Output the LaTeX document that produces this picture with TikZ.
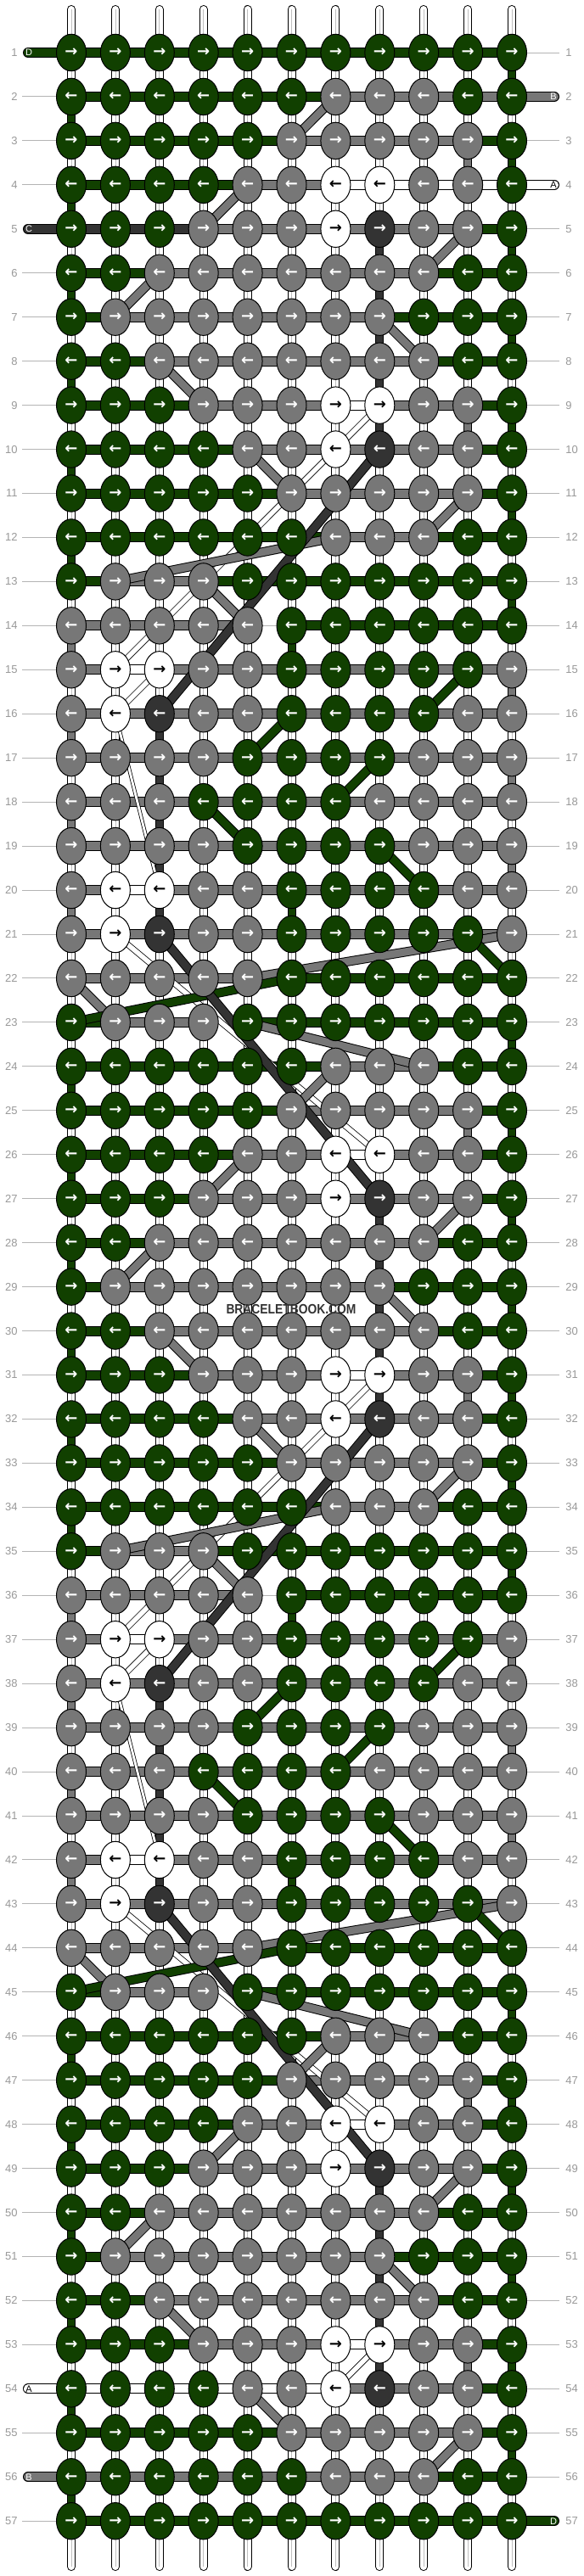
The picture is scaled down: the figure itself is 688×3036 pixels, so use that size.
\documentclass[tikz,border=0pt]{standalone}
\usepackage{fontspec}
\setmainfont{Liberation Sans}
\newfontfamily\arrfont{DejaVu Sans}
\usetikzlibrary{shapes.geometric}
\pgfdeclarelayer{bg}
\pgfsetlayers{bg,main}
\definecolor{G}{HTML}{114000}
\definecolor{g}{HTML}{777777}
\definecolor{d}{HTML}{333333}
\definecolor{w}{HTML}{FFFFFF}
\definecolor{lbl}{HTML}{999999}
\definecolor{lln}{HTML}{B4B4B4}
\colorlet{tG}{white}
\colorlet{tg}{white}
\colorlet{td}{white}
\colorlet{tw}{black}
\tikzset{
  knot/.style={ellipse, draw=black, line width=0.5pt, minimum width=17.5pt, minimum height=21.7pt, inner sep=0pt, font=\arrfont\bfseries\fontsize{9}{9}\selectfont},
  rowlabel/.style={inner sep=0pt, text=lbl, font=\fontsize{6.5}{7}\selectfont},
  labelline/.style={draw=lln, line width=0.5pt},
  endtag/.style={inner sep=0pt, font=\fontsize{5.5}{6}\selectfont},
  outl/.style={draw=black, line width=5.5pt},
  fillw/.style={line width=4.5pt},
}
\begin{document}
\begin{tikzpicture}[x=0.5pt,y=-0.5pt]
\useasboundingbox (0,0) rectangle (688,3036);
% warp strings
\begin{pgfonlayer}{bg}
\fill[white] (0,0) rectangle (688,3036);
\foreach \ci in {1,...,11} {
  \coordinate (wt-\ci) at ({84+51.9*(\ci-1)},11);
  \coordinate (wb-\ci) at ({84+51.9*(\ci-1)},3025);
  \draw[line width=5pt, line cap=round] (wt-\ci) -- (wb-\ci);
  \draw[white, line width=4pt, line cap=round] (wt-\ci) -- (wb-\ci);
  \draw[black!25, line width=0.4pt] (wt-\ci) -- (wb-\ci);
}
\end{pgfonlayer}
% knots and horizontal bands
\foreach \r/\ks/\bs in {
1/{G,G,G,G,G,G,G,G,G,G,G}/{G,G,G,G,G,G,G,G,G,G},
2/{G,G,G,G,G,G,g,g,g,G,G}/{G,G,G,G,G,G,g,g,g,g},
3/{G,G,G,G,G,g,g,g,g,g,G}/{G,G,G,G,G,g,g,g,g,G},
4/{G,G,G,G,g,g,w,w,g,g,G}/{G,G,G,G,g,g,w,w,w,w},
5/{G,G,G,g,g,g,w,d,g,g,G}/{d,d,d,g,g,g,g,g,g,G},
6/{G,G,g,g,g,g,g,g,g,G,G}/{G,G,g,g,g,g,g,g,G,G},
7/{G,g,g,g,g,g,g,g,G,G,G}/{G,g,g,g,g,g,g,G,G,G},
8/{G,G,g,g,g,g,g,g,g,G,G}/{G,G,g,g,g,g,g,g,G,G},
9/{G,G,G,g,g,g,w,w,g,g,G}/{G,G,G,g,g,g,w,g,g,G},
10/{G,G,G,G,g,g,w,d,g,g,G}/{G,G,G,G,g,g,g,g,g,G},
11/{G,G,G,G,G,g,g,g,g,g,G}/{G,G,G,G,G,g,g,g,g,G},
12/{G,G,G,G,G,G,g,g,g,G,G}/{G,G,G,G,G,G,g,g,G,G},
13/{G,g,g,g,G,G,G,G,G,G,G}/{G,g,g,G,G,G,G,G,G,G},
14/{g,g,g,g,g,G,G,G,G,G,G}/{g,g,g,g,n,G,G,G,G,G},
15/{g,w,w,g,g,G,G,G,G,G,g}/{g,w,g,g,g,g,g,g,g,g},
16/{g,w,d,g,g,G,G,G,G,g,g}/{g,g,g,g,g,g,g,g,g,g},
17/{g,g,g,g,G,G,G,G,g,g,g}/{g,g,g,g,g,g,g,g,g,g},
18/{g,g,g,G,G,G,G,g,g,g,g}/{g,g,g,g,g,g,g,g,g,g},
19/{g,g,g,g,G,G,G,G,g,g,g}/{g,g,g,g,g,g,g,g,g,g},
20/{g,w,w,g,g,G,G,G,G,g,g}/{g,w,g,g,g,g,g,g,g,g},
21/{g,w,d,g,g,G,G,G,G,G,g}/{g,g,g,g,g,g,g,g,g,g},
22/{g,g,g,g,g,G,G,G,G,G,G}/{g,g,g,g,n,G,G,G,G,G},
23/{G,g,g,g,G,G,G,G,G,G,G}/{G,g,g,n,G,G,G,G,G,G},
24/{G,G,G,G,G,G,g,g,g,G,G}/{G,G,G,G,G,G,g,g,G,G},
25/{G,G,G,G,G,g,g,g,g,g,G}/{G,G,G,G,G,g,g,g,g,G},
26/{G,G,G,G,g,g,w,w,g,g,G}/{G,G,G,G,g,g,w,g,g,G},
27/{G,G,G,g,g,g,w,d,g,g,G}/{G,G,G,g,g,g,g,g,g,G},
28/{G,G,g,g,g,g,g,g,g,G,G}/{G,G,g,g,g,g,g,g,G,G},
29/{G,g,g,g,g,g,g,g,G,G,G}/{G,g,g,g,g,g,g,G,G,G},
30/{G,G,g,g,g,g,g,g,g,G,G}/{G,G,g,g,g,g,g,g,G,G},
31/{G,G,G,g,g,g,w,w,g,g,G}/{G,G,G,g,g,g,w,g,g,G},
32/{G,G,G,G,g,g,w,d,g,g,G}/{G,G,G,G,g,g,g,g,g,G},
33/{G,G,G,G,G,g,g,g,g,g,G}/{G,G,G,G,G,g,g,g,g,G},
34/{G,G,G,G,G,G,g,g,g,G,G}/{G,G,G,G,G,G,g,g,G,G},
35/{G,g,g,g,G,G,G,G,G,G,G}/{G,g,g,G,G,G,G,G,G,G},
36/{g,g,g,g,g,G,G,G,G,G,G}/{g,g,g,g,n,G,G,G,G,G},
37/{g,w,w,g,g,G,G,G,G,G,g}/{g,w,g,g,g,g,g,g,g,g},
38/{g,w,d,g,g,G,G,G,G,g,g}/{g,g,g,g,g,g,g,g,g,g},
39/{g,g,g,g,G,G,G,G,g,g,g}/{g,g,g,g,g,g,g,g,g,g},
40/{g,g,g,G,G,G,G,g,g,g,g}/{g,g,g,g,g,g,g,g,g,g},
41/{g,g,g,g,G,G,G,G,g,g,g}/{g,g,g,g,g,g,g,g,g,g},
42/{g,w,w,g,g,G,G,G,G,g,g}/{g,w,g,g,g,g,g,g,g,g},
43/{g,w,d,g,g,G,G,G,G,G,g}/{g,g,g,g,g,g,g,g,g,g},
44/{g,g,g,g,g,G,G,G,G,G,G}/{g,g,g,g,n,G,G,G,G,G},
45/{G,g,g,g,G,G,G,G,G,G,G}/{G,g,g,n,G,G,G,G,G,G},
46/{G,G,G,G,G,G,g,g,g,G,G}/{G,G,G,G,G,G,g,g,G,G},
47/{G,G,G,G,G,g,g,g,g,g,G}/{G,G,G,G,G,g,g,g,g,G},
48/{G,G,G,G,g,g,w,w,g,g,G}/{G,G,G,G,g,g,w,g,g,G},
49/{G,G,G,g,g,g,w,d,g,g,G}/{G,G,G,g,g,g,g,g,g,G},
50/{G,G,g,g,g,g,g,g,g,G,G}/{G,G,g,g,g,g,g,g,G,G},
51/{G,g,g,g,g,g,g,g,G,G,G}/{G,g,g,g,g,g,g,G,G,G},
52/{G,G,g,g,g,g,g,g,g,G,G}/{G,G,g,g,g,g,g,g,G,G},
53/{G,G,G,g,g,g,w,w,g,g,G}/{G,G,G,g,g,g,w,g,g,G},
54/{G,G,G,G,g,g,w,d,g,g,G}/{w,w,w,w,w,w,g,g,g,G},
55/{G,G,G,G,G,g,g,g,g,g,G}/{G,G,G,G,G,g,g,g,g,G},
56/{G,G,G,G,G,G,g,g,g,G,G}/{g,g,g,g,g,g,g,g,G,G},
57/{G,G,G,G,G,G,G,G,G,G,G}/{G,G,G,G,G,G,G,G,G,G}} {
  \ifodd\r\relax \def\arr{→}\else \def\arr{←}\fi
  \foreach \kc [count=\ci] in \ks {
    \node[knot, fill=\kc, text=t\kc] (k-\r-\ci) at ({84+51.9*(\ci-1)},{62+51.95*(\r-1)}) {\arr};
  }
  \begin{pgfonlayer}{bg}
  \foreach \bc [count=\ci] in \bs {
    \pgfmathtruncatemacro\cj{\ci+1}
    \if n\bc
      \draw[labelline] (k-\r-\ci.center) -- (k-\r-\cj.center);
    \else
      \draw[line width=6pt] (k-\r-\ci.center) -- (k-\r-\cj.center);
      \draw[draw=\bc, line width=5pt] (k-\r-\ci.center) -- (k-\r-\cj.center);
    \fi
  }
  \end{pgfonlayer}
}
% row labels
\foreach \r in {1,...,57} {
  \node[rowlabel, anchor=east] (ll-\r) at (21,{62+51.95*(\r-1)}) {\r};
  \node[rowlabel, anchor=west] (lr-\r) at (666,{62+51.95*(\r-1)}) {\r};
}
\begin{pgfonlayer}{bg}
% label lines
\foreach \r in {2,3,4,6,7,...,53,55,57}
  \draw[labelline, shorten <=2.5pt] (ll-\r.east) -- (k-\r-1.west);
\foreach \r in {1,3,5,6,...,56}
  \draw[labelline, shorten >=3.5pt] (k-\r-11.east) -- (lr-\r.west);
% loose ends of the working strings
\foreach \r/\ci/\xx/\col in {1/1/33/G, 5/1/33/d, 54/1/33/w, 56/1/33/g, 2/11/653/g, 4/11/653/w, 57/11/653/G} {
  \coordinate (e-\r) at (\xx,{62+51.95*(\r-1)});
  \draw[line width=6pt, line cap=round] (e-\r) -- (k-\r-\ci.center);
  \draw[draw=\col, line width=5pt, line cap=round] (e-\r) -- (k-\r-\ci.center);
}
% vertical coloured segments
\foreach \off in {-22,0,22,44} {
  \foreach \r/\ci/\col in {2/1/G, 3/10/g, 3/11/G, 4/1/G, 5/8/d, 5/11/G, 6/1/G, 6/8/d, 7/8/d, 7/11/G, 8/1/G, 8/8/d, 9/8/d, 9/10/g, 9/11/G, 10/1/G, 11/11/G, 12/1/G, 13/11/G, 14/1/g, 14/6/G, 15/11/g, 16/1/g, 16/3/d, 17/3/d, 17/11/g, 18/1/g, 18/3/d, 19/3/d, 19/11/g, 20/1/g, 20/3/d, 20/6/G, 23/11/G} {
    \pgfmathtruncatemacro\Ra{\r+\off}
    \pgfmathtruncatemacro\Rb{\r+\off+1}
    \ifnum\Ra>0 \ifnum\Rb<58
      \draw[line width=5pt] (k-\Ra-\ci.center) -- (k-\Rb-\ci.center);
      \draw[draw=\col, line width=4pt] (k-\Ra-\ci.center) -- (k-\Rb-\ci.center);
    \fi\fi
  }
}
% white strings carried diagonally
\foreach \off in {0,22,44} {
  \foreach \ra/\ca/\rb/\cb in {9/8/10/7, 10/7/15/2, 15/3/16/2, 21/2/26/8} {
    \pgfmathtruncatemacro\Ra{\ra+\off}
    \pgfmathtruncatemacro\Rb{\rb+\off}
    \ifnum\Rb<57
      \draw[line width=3.6pt] (k-\Ra-\ca.center) -- (k-\Rb-\cb.center);
      \draw[white, line width=2.8pt] (k-\Ra-\ca.center) -- (k-\Rb-\cb.center);
    \fi
  }
  \foreach \ra/\ca/\rb/\cb in {16/2/20/3} {
    \pgfmathtruncatemacro\Ra{\ra+\off}
    \pgfmathtruncatemacro\Rb{\rb+\off}
    \ifnum\Rb<57
      \draw[line width=2.2pt] (k-\Ra-\ca.center) -- (k-\Rb-\cb.center);
      \draw[white, line width=1.4pt] (k-\Ra-\ca.center) -- (k-\Rb-\cb.center);
    \fi
  }
}
% gray strings carried diagonally
\foreach \off in {0,22,44} {
  \foreach \ra/\ca/\rb/\cb in {2/7/3/6, 4/5/5/4, 5/10/6/9, 6/3/7/2, 7/8/8/9, 8/3/9/4, 10/5/11/6, 11/10/12/9, 12/7/13/2, 13/4/14/5, 21/11/22/5, 22/1/23/2, 23/5/24/9} {
    \pgfmathtruncatemacro\Ra{\ra+\off}
    \pgfmathtruncatemacro\Rb{\rb+\off}
    \ifnum\Rb<57
      \draw[outl] (k-\Ra-\ca.center) -- (k-\Rb-\cb.center);
      \draw[fillw, g] (k-\Ra-\ca.center) -- (k-\Rb-\cb.center);
    \fi
  }
}
% green strings carried diagonally
\foreach \off in {0,22,44} {
  \foreach \ra/\ca/\rb/\cb in {15/10/16/9, 16/6/17/5, 17/8/18/7, 18/4/19/5, 19/8/20/9, 21/10/22/11, 22/6/23/1} {
    \pgfmathtruncatemacro\Ra{\ra+\off}
    \pgfmathtruncatemacro\Rb{\rb+\off}
    \ifnum\Rb<57
      \draw[outl] (k-\Ra-\ca.center) -- (k-\Rb-\cb.center);
      \draw[fillw, G] (k-\Ra-\ca.center) -- (k-\Rb-\cb.center);
    \fi
  }
}
% dark string carried diagonally
\foreach \off in {0,22,44} {
  \foreach \ra/\ca/\rb/\cb in {10/8/16/3, 21/3/27/8} {
    \pgfmathtruncatemacro\Ra{\ra+\off}
    \pgfmathtruncatemacro\Rb{\rb+\off}
    \ifnum\Rb<57
      \draw[outl] (k-\Ra-\ca.center) -- (k-\Rb-\cb.center);
      \draw[fillw, d] (k-\Ra-\ca.center) -- (k-\Rb-\cb.center);
    \fi
  }
}
\end{pgfonlayer}
% tags on the loose ends
\node[endtag, text=white] (tag-1) at (34,62) {D};
\node[endtag, text=white] (tag-5) at (34,{62+51.95*4}) {C};
\node[endtag, text=black] (tag-54) at (34,{62+51.95*53}) {A};
\node[endtag, text=white] (tag-56) at (34,{62+51.95*55}) {B};
\node[endtag, text=white] (tag-2) at (652,{62+51.95*1}) {B};
\node[endtag, text=black] (tag-4) at (652,{62+51.95*3}) {A};
\node[endtag, text=white] (tag-57) at (652,{62+51.95*56}) {D};
% watermark
\node[text=d, inner sep=0pt, font=\bfseries\fontsize{8}{8}\selectfont] (wm) at (343,1543) {\scalebox{0.865}[1]{BRACELETBOOK.COM}};
\end{tikzpicture}
\end{document}
